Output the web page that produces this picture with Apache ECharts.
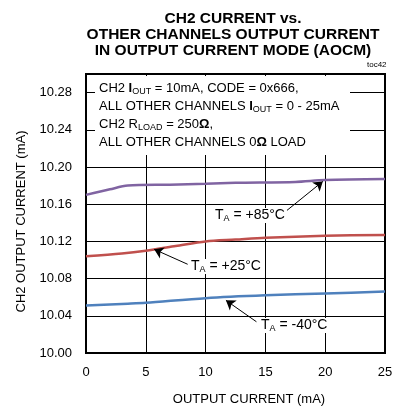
<!DOCTYPE html>
<html>
<head>
<meta charset="utf-8">
<script src="https://cdn.jsdelivr.net/npm/echarts@6/dist/echarts.min.js"></script>
<style>
  html, body { margin: 0; padding: 0; background: #fff; }
  #chart { width: 401px; height: 408px; }
</style>
</head>
<body>
<div id="chart"></div>
<script>
// CH2 current vs other channels output current (AOCM)
let font = '"Liberation Sans", Arial, sans-serif';

let xTicks = [0, 5, 10, 15, 20, 25];
let yTicks = ['10.00', '10.04', '10.08', '10.12', '10.16', '10.20', '10.24', '10.28'];

// [output current mA, CH2 current mA]
let ta85 = [[0, 10.170], [2, 10.176], [3.5, 10.180], [7, 10.181], [10, 10.182], [12.5, 10.183], [17.5, 10.184], [20, 10.186], [25, 10.187]];
let ta25 = [[0, 10.104], [3, 10.107], [5, 10.110], [7.5, 10.115], [10, 10.120], [12.5, 10.122], [15, 10.124], [20, 10.126], [25, 10.127]];
let taM40 = [[0, 10.051], [3.5, 10.053], [5, 10.054], [10, 10.059], [15, 10.062], [20, 10.064], [25, 10.066]];

let lineColors = ['#8064a2', '#c0504d', '#4f81bd'];

let chart = echarts.init(document.getElementById('chart'));

function arrow(from, to) {
    return {
        silent: true,
        symbol: ['none', 'arrow'],
        symbolSize: 9,
        label: {show: false},
        lineStyle: {color: '#000', width: 1, type: 'solid'},
        data: [[{coord: from}, {coord: to}]]
    };
}

function taText(x, y, rest) {
    return {
        type: 'text', left: x, top: y, z: 100,
        style: {
            text: '{t|T}{s|A}{t|' + rest + '}',
            backgroundColor: '#fff',
            padding: [0, 2, 0, 2],
            rich: {
                t: {fontFamily: font, fontSize: 14, fill: '#000'},
                s: {fontFamily: font, fontSize: 9, fill: '#000', padding: [6, 0, 0, 0]}
            }
        }
    };
}

let noteRich = {
    t: {fontFamily: font, fontSize: 13, fill: '#000', lineHeight: 18},
    s: {fontFamily: font, fontSize: 9, fill: '#000', padding: [6, 0, 0, 0], lineHeight: 18},
    o: {fontFamily: font, fontSize: 13, fontWeight: 'bold', fill: '#000', lineHeight: 18}
};

let option = {
    animation: false,
    backgroundColor: '#fff',
    title: {
        text: 'CH2 CURRENT vs.\nOTHER CHANNELS OUTPUT CURRENT\nIN OUTPUT CURRENT MODE (AOCM)',
        left: 228, top: 6, textAlign: 'center',
        textStyle: {fontFamily: font, fontSize: 15.5, fontWeight: 'bold', color: '#000', lineHeight: 16}
    },
    grid: {left: 86, right: 16, top: 74, bottom: 55, outerBoundsMode: 'none', containLabel: false,
        show: true, borderColor: '#000', borderWidth: 2, backgroundColor: 'transparent'},
    xAxis: {
        type: 'value', min: 0, max: 25, interval: 5,
        name: 'OUTPUT CURRENT (mA)', nameLocation: 'middle', nameGap: 40,
        nameTextStyle: {fontFamily: font, fontSize: 13, color: '#000', padding: [0, 0, 0, 27]},
        axisLine: {show: false}, axisTick: {show: false},
        axisLabel: {fontFamily: font, fontSize: 13, color: '#000', margin: 13,
            formatter: v => xTicks.indexOf(v) >= 0 ? String(v) : ''},
        splitLine: {lineStyle: {color: '#000', width: 1}}
    },
    yAxis: {
        type: 'value', min: 10.00, max: 10.30, interval: 0.04,
        name: 'CH2 OUTPUT CURRENT (mA)', nameLocation: 'middle', nameGap: 58,
        nameTextStyle: {fontFamily: font, fontSize: 13, color: '#000', padding: [0, 16, 0, 0]},
        axisLine: {show: false}, axisTick: {show: false},
        axisLabel: {fontFamily: font, fontSize: 13, color: '#000', margin: 14, showMaxLabel: false,
            formatter: v => { let s = v.toFixed(2); return yTicks.indexOf(s) >= 0 ? s : ''; }},
        splitLine: {lineStyle: {color: '#000', width: 1}}
    },
    series: [
        {name: '+85', type: 'line', data: ta85, smooth: 0.3, showSymbol: false, lineStyle: {color: lineColors[0], width: 2.5},
            markLine: arrow([16.75, 10.1528], [19.8, 10.1845])},
        {name: '+25', type: 'line', data: ta25, smooth: 0.3, showSymbol: false, lineStyle: {color: lineColors[1], width: 2.5},
            markLine: arrow([8.5, 10.0954], [5.7, 10.1115])},
        {name: '-40', type: 'line', data: taM40, smooth: 0.3, showSymbol: false, lineStyle: {color: lineColors[2], width: 2.5},
            markLine: arrow([14.25, 10.0336], [11.7, 10.0566])}
    ],
    graphic: [
        {type: 'rect', z: 90, shape: {x: 95, y: 76, width: 255, height: 79}, style: {fill: '#fff'}},
        {
            type: 'text', left: 99, top: 81, z: 100,
            style: {
                text: '{t|CH2 }{o|I}{s|OUT}{t| = 10mA, CODE = 0x666,}\n' +
                    '{t|ALL OTHER CHANNELS }{o|I}{s|OUT}{t| = 0 - 25mA}\n' +
                    '{t|CH2 R}{s|LOAD}{t| = 250}{o|Ω}{t|,}\n' +
                    '{t|ALL OTHER CHANNELS 0}{o|Ω}{t| LOAD}',
                rich: noteRich
            }
        },
        {type: 'text', left: 367, top: 61, z: 100, style: {text: 'toc42', fontFamily: font, fontSize: 8, fill: '#000'}},
        taText(213, 208, ' = +85°C'),
        taText(189, 259, ' = +25°C'),
        taText(259, 318, ' = -40°C')
    ]
};

chart.setOption(option);
</script>
</body>
</html>
